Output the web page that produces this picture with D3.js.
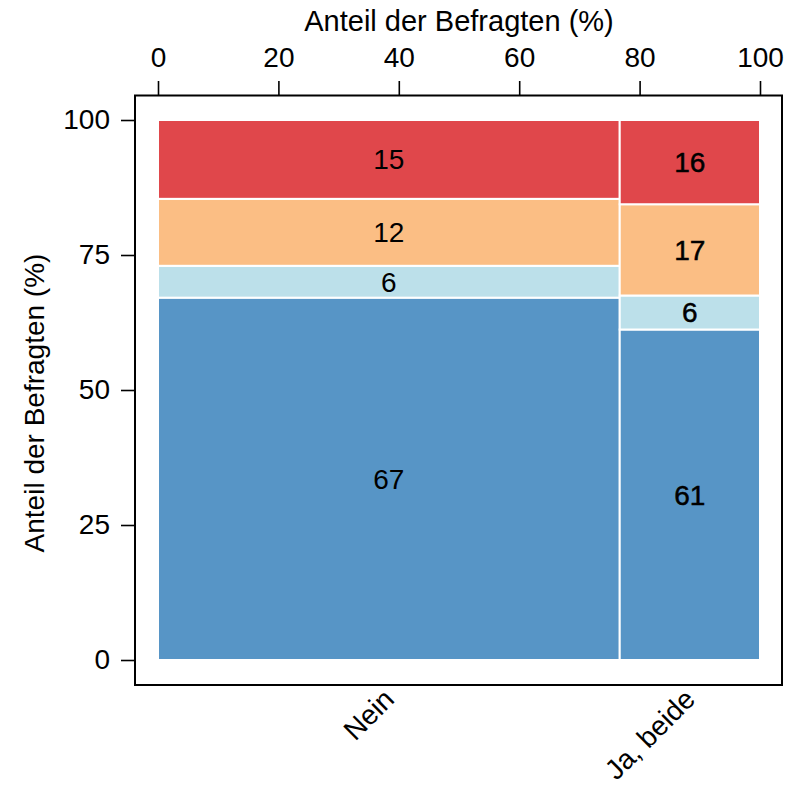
<!DOCTYPE html>
<html>
<head>
<meta charset="utf-8">
<script src="https://cdn.jsdelivr.net/npm/d3@7"></script>
<style>
  body { margin: 0; background: #fff; }
  svg text { font-family: "Liberation Sans", Arial, Helvetica, sans-serif; fill: #000; }
</style>
</head>
<body>
<script>
// groups along x (share of respondents, %)
var groups = ["Nein", "Ja, beide"];
var groupShare = [76.7, 23.3];
// stacked answer shares within each group (bottom -> top)
var neinValues = [67.1, 5.9, 12.4, 14.6];
var jaValues = [61.2, 6.3, 16.9, 15.6];
var segColors = ["#5795c6", "#bce0ea", "#fbbe84", "#e0474b"];
var xTicks = [0, 20, 40, 60, 80, 100];
var yTicks = [0, 25, 50, 75, 100];
var axisTitle = "Anteil der Befragten (%)";

var width = 794, height = 786;
var frame = {left: 135, right: 782, top: 95.5, bottom: 685};

var x = d3.scaleLinear().domain([0, 100]).range([158, 760]);
var y = d3.scaleLinear().domain([0, 100]).range([660, 120]);

var svg = d3.select("body").append("svg")
    .attr("width", width)
    .attr("height", height);

// build mosaic cells
var seriesByGroup = [neinValues, jaValues];
var cells = [];
var x0 = 0;
groups.forEach(function(g, gi) {
  var y0 = 0;
  seriesByGroup[gi].forEach(function(v, si) {
    cells.push({group: g, gi: gi, si: si, x0: x0, x1: x0 + groupShare[gi], y0: y0, y1: y0 + v, value: v});
    y0 += v;
  });
  x0 += groupShare[gi];
});

svg.append("g").selectAll("rect")
    .data(cells)
    .enter().append("rect")
    .attr("x", function(d) { return x(d.x0); })
    .attr("y", function(d) { return y(d.y1); })
    .attr("width", function(d) { return x(d.x1) - x(d.x0); })
    .attr("height", function(d) { return y(d.y0) - y(d.y1); })
    .attr("fill", function(d) { return segColors[d.si]; })
    .attr("stroke", "#fff")
    .attr("stroke-width", 2);

// labels in cells (right column drawn a bit heavier, like the original)
svg.append("g").selectAll("text")
    .data(cells)
    .enter().append("text")
    .attr("x", function(d) { return x((d.x0 + d.x1) / 2); })
    .attr("y", function(d) { return y((d.y0 + d.y1) / 2); })
    .attr("dy", "0.35em")
    .attr("text-anchor", "middle")
    .style("font-size", "28px")
    .style("stroke", function(d) { return d.gi === 1 ? "#000" : "none"; })
    .style("stroke-width", 0.5)
    .text(function(d) { return d3.format(".0f")(d.value); });

// frame
svg.append("rect")
    .attr("x", frame.left)
    .attr("y", frame.top)
    .attr("width", frame.right - frame.left)
    .attr("height", frame.bottom - frame.top)
    .attr("fill", "none")
    .attr("stroke", "#000")
    .attr("stroke-width", 2);

// top axis
var xAxis = d3.axisTop(x).tickValues(xTicks).tickSize(14.5).tickSizeOuter(0).tickPadding(14);
var gx = svg.append("g")
    .attr("transform", "translate(0," + frame.top + ")")
    .call(xAxis);
gx.select(".domain").remove();
gx.selectAll("line").attr("stroke", "#000").attr("stroke-width", 1.6);
gx.selectAll("text").style("font-size", "28px");

// left axis
var yAxis = d3.axisLeft(y).tickValues(yTicks).tickSize(14).tickSizeOuter(0).tickPadding(11);
var gy = svg.append("g")
    .attr("transform", "translate(" + frame.left + ",0)")
    .call(yAxis);
gy.select(".domain").remove();
gy.selectAll("line").attr("stroke", "#000").attr("stroke-width", 1.6);
gy.selectAll("text").style("font-size", "28px");

// titles
svg.append("text")
    .attr("x", x(50))
    .attr("y", 31)
    .attr("text-anchor", "middle")
    .style("font-size", "29px")
    .text(axisTitle);

svg.append("text")
    .attr("transform", "translate(44," + 403 + ") rotate(-90)")
    .attr("text-anchor", "middle")
    .style("font-size", "28px")
    .text(axisTitle);

// group labels below
var gxStart = [0];
groupShare.forEach(function(s, i) { gxStart.push(gxStart[i] + s); });
svg.append("g").selectAll("text")
    .data(groups)
    .enter().append("text")
    .attr("transform", function(d, i) {
      var cx = x((gxStart[i] + gxStart[i + 1]) / 2) + 7;
      return "translate(" + cx + ",701) rotate(-45)";
    })
    .attr("text-anchor", "end")
    .style("font-size", "28px")
    .text(function(d) { return d; });
</script>
</body>
</html>
